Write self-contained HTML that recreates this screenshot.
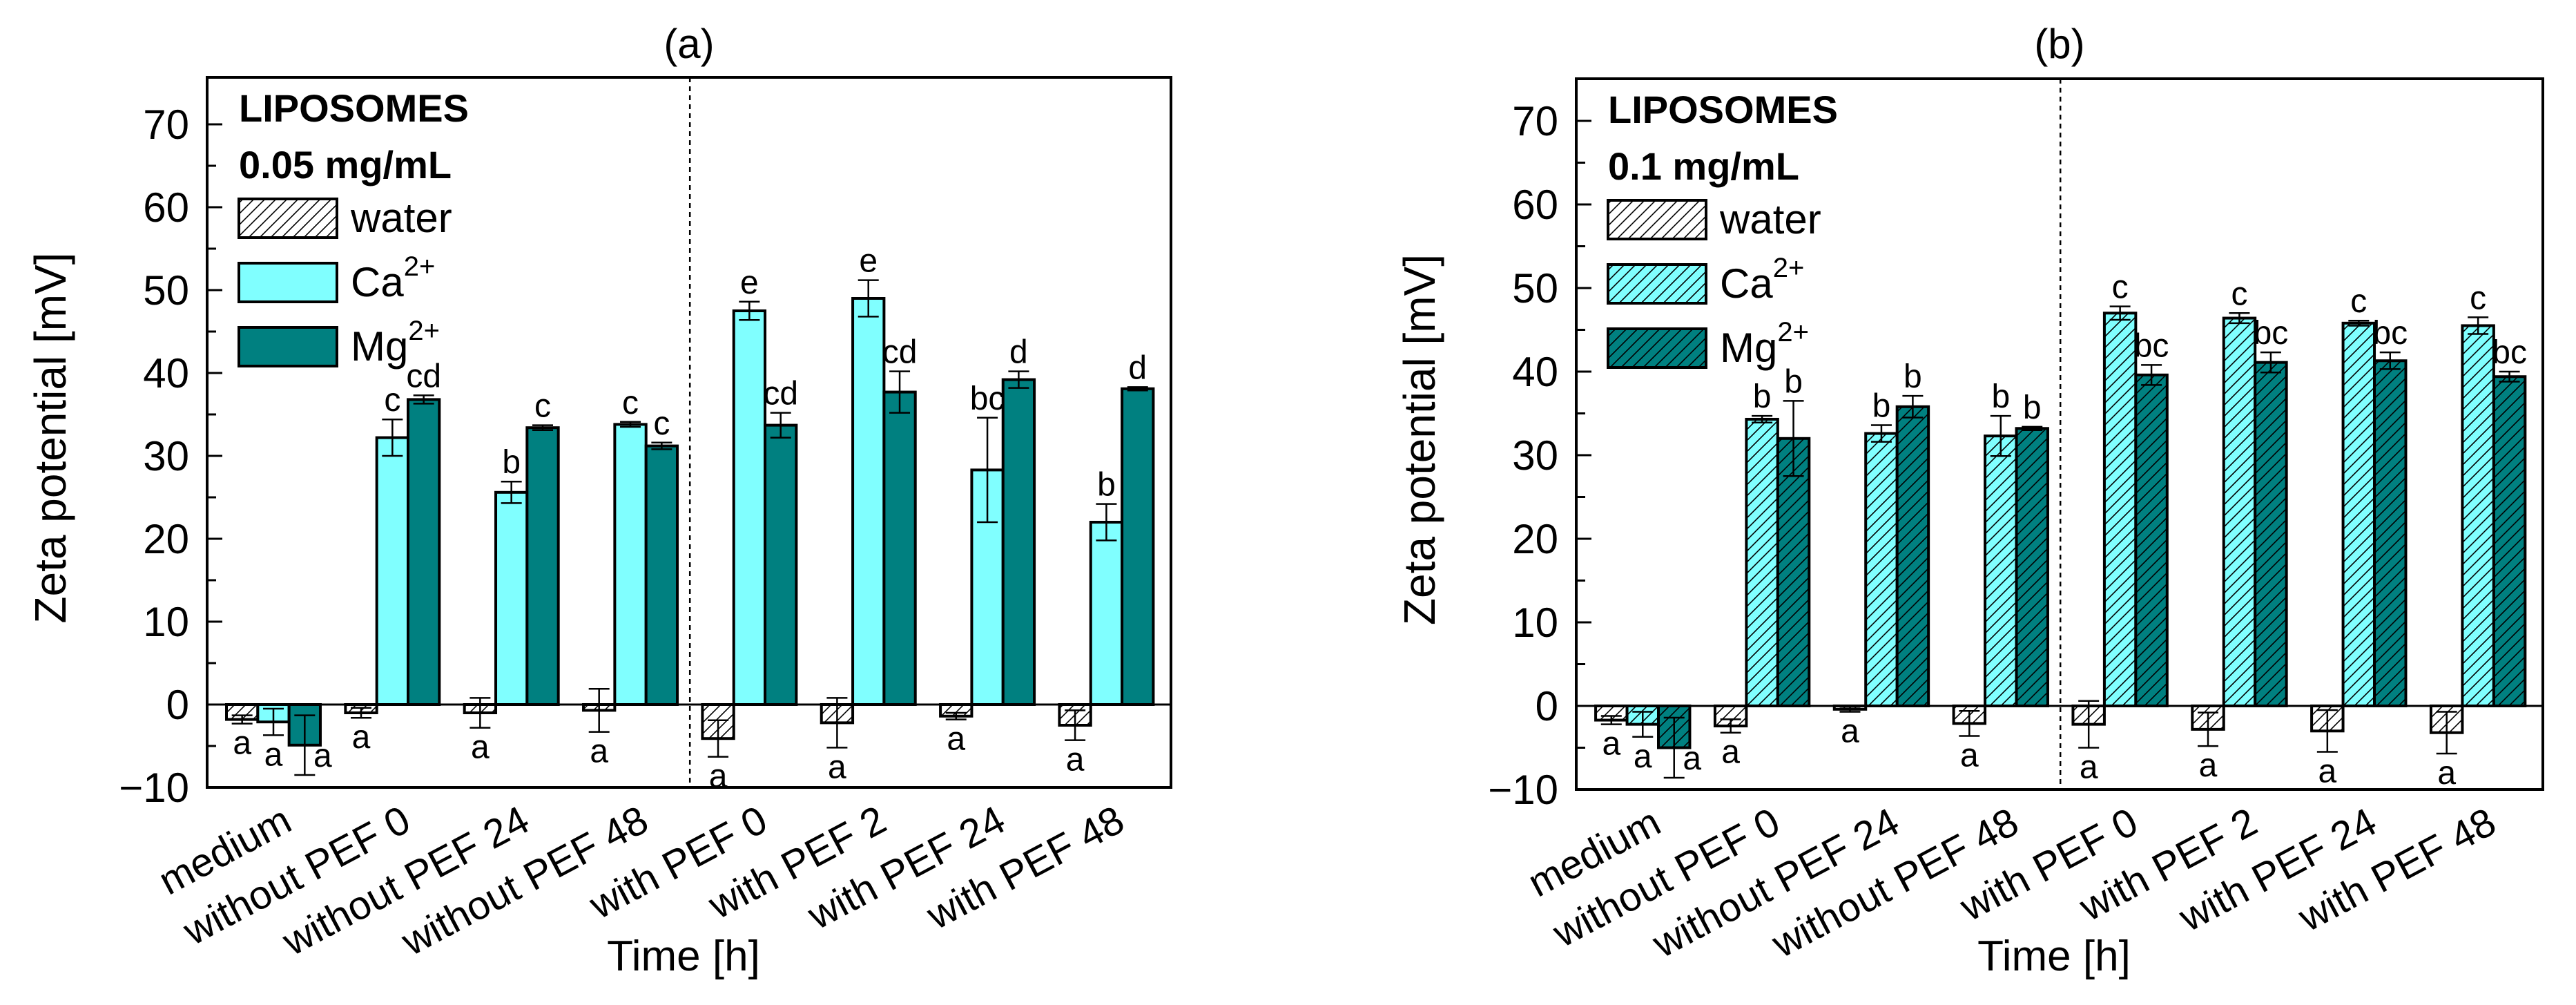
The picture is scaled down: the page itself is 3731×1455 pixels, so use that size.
<!DOCTYPE html>
<html><head><meta charset="utf-8">
<style>
html,body{margin:0;padding:0;background:#fff;}
svg{display:block;font-family:"Liberation Sans",Arial,sans-serif;}
</style></head>
<body>
<svg id="chart" width="3731" height="1455" viewBox="0 0 3731 1455" xmlns="http://www.w3.org/2000/svg">
<defs>
<pattern id="hatchW" patternUnits="userSpaceOnUse" width="16" height="16">
<rect width="16" height="16" fill="#ffffff"/>
<path d="M-2,2 L2,-2 M0,16 L16,0 M14,18 L18,14" stroke="#000" stroke-width="1.6"/>
</pattern>
<pattern id="hatchC" patternUnits="userSpaceOnUse" width="16" height="16">
<rect width="16" height="16" fill="#80ffff"/>
<path d="M-2,2 L2,-2 M0,16 L16,0 M14,18 L18,14" stroke="#000" stroke-width="1.6"/>
</pattern>
<pattern id="hatchM" patternUnits="userSpaceOnUse" width="16" height="16">
<rect width="16" height="16" fill="#008080"/>
<path d="M-2,2 L2,-2 M0,16 L16,0 M14,18 L18,14" stroke="#000" stroke-width="1.6"/>
</pattern>
</defs>
</svg>
<script>
const categories = ["medium","without PEF 0","without PEF 24","without PEF 48","with PEF 0","with PEF 2","with PEF 24","with PEF 48"];
const yTicks = [-10,0,10,20,30,40,50,60,70];
// Panel (a) 0.05 mg/mL
const aWater = [-1.8,-1.0,-1.0,-0.7,-4.1,-2.2,-1.4,-2.5];
const aWaterErr = [0.5,0.6,1.8,2.6,2.2,3.0,0.4,1.8];
const aCa = [-2.1,32.2,25.6,33.8,47.5,49.0,28.3,22.0];
const aCaErr = [1.6,2.2,1.3,0.3,1.1,2.2,6.3,2.2];
const aMg = [-4.9,36.8,33.4,31.2,33.7,37.7,39.2,38.1];
const aMgErr = [3.6,0.5,0.3,0.4,1.5,2.5,1.0,0.2];
const aWaterLbl = ["a","a","a","a","a","a","a","a"];
const aCaLbl = ["a","c","b","c","e","e","bc","b"];
const aMgLbl = ["a","cd","c","c","cd","cd","d","d"];
// Panel (b) 0.1 mg/mL
const bWater = [-1.7,-2.4,-0.4,-2.1,-2.2,-2.8,-3.0,-3.2];
const bWaterErr = [0.5,0.8,0.3,1.5,2.8,2.0,2.5,2.5];
const bCa = [-2.2,34.3,32.6,32.3,47.0,46.4,45.8,45.5];
const bCaErr = [1.5,0.4,1.0,2.4,0.8,0.6,0.3,1.0];
const bMg = [-5.0,32.0,35.8,33.2,39.6,41.1,41.3,39.4];
const bMgErr = [3.6,4.5,1.3,0.2,1.2,1.2,1.0,0.6];
const bWaterLbl = ["a","a","a","a","a","a","a","a"];
const bCaLbl = ["a","b","b","b","c","c","c","c"];
const bMgLbl = ["a","b","b","b","bc","bc","bc","bc"];

const NS = "http://www.w3.org/2000/svg";
const svg = document.getElementById("chart");
function mk(tag, attrs, parent, text){
  const e = document.createElementNS(NS, tag);
  for (const k in attrs) e.setAttribute(k, attrs[k]);
  if (text !== undefined) e.textContent = text;
  (parent || svg).appendChild(e);
  return e;
}

function panel(cfg){
  const g = mk("g", {});
  
  
  const L = cfg.left, R = cfg.right, T = cfg.top, B = cfg.bottom, Z = cfg.zero;
  const ppu = (B - Z) / 10;
  const y = v => Z - v * ppu;
  const xmin = 0.443, step = (R - L) / 8.1;
  const x = v => L + (v - xmin) * step;
  const bw = 0.263 * step;

  const sep = mk("line", {x1:x(4.5), x2:x(4.5), y1:T, y2:B, stroke:"#000", "stroke-width":2.5, "stroke-dasharray":"7,6"}, g);
  
  

  const series = [
    {vals:cfg.water, err:cfg.waterErr, lbl:cfg.waterLbl, off:-1, fill:"url(#hatchW)", key:"water"},
    {vals:cfg.ca, err:cfg.caErr, lbl:cfg.caLbl, off:0, fill:cfg.hatched?"url(#hatchC)":"#80ffff", key:"ca"},
    {vals:cfg.mg, err:cfg.mgErr, lbl:cfg.mgLbl, off:1, fill:cfg.hatched?"url(#hatchM)":"#008080", key:"mg"}
  ];
  series.forEach(s => {
    s.vals.forEach((v, i) => {
      const cx = x(i + 1 + s.off * 0.263);
      const y0 = y(0), y1 = y(v);
      const r = mk("rect", {x:cx - bw/2, y:Math.min(y0,y1), width:bw, height:Math.abs(y1-y0), fill:s.fill, stroke:"#000", "stroke-width":4}, g);
      
      
      const e = s.err[i];
      const eg = mk("g", {stroke:"#000", "stroke-width":2.5}, g);
      
      
      mk("line", {x1:cx, x2:cx, y1:y(v+e), y2:y(v-e)}, eg);
      mk("line", {x1:cx-15, x2:cx+15, y1:y(v+e), y2:y(v+e)}, eg);
      mk("line", {x1:cx-15, x2:cx+15, y1:y(v-e), y2:y(v-e)}, eg);
      let ly, lx = cx;
      if (v >= 0) ly = y(v + e) - 12;
      else if (s.key === "mg" && v < -4) { ly = y(v - e) - 12; lx = cx + 26; }
      else ly = y(v - e) + 44;
      const t = mk("text", {x:lx, y:ly, "font-size":48, "text-anchor":"middle"}, g, s.lbl[i]);
      
      
    });
  });

  const zl = mk("line", {x1:L, x2:R, y1:y(0), y2:y(0), stroke:"#000", "stroke-width":3}, g);
  
  

  const fr = mk("rect", {x:L, y:T, width:R-L, height:B-T, fill:"none", stroke:"#000", "stroke-width":4}, g);
  
  

  for (let v = -10; v <= 70; v += 5) {
    const major = v % 10 === 0;
    mk("line", {x1:L, x2:L + (major ? 22 : 13), y1:y(v), y2:y(v), stroke:"#000", "stroke-width":3}, g);
  }
  yTicks.forEach(v => {
    const t = mk("text", {x:L - 26, y:y(v) + 21, "font-size":60, "text-anchor":"end"}, g, v < 0 ? "\u2212" + Math.abs(v) : String(v));
    
    
  });

  const yt = mk("text", {x:0, y:0, "font-size":64, "text-anchor":"middle", transform:`translate(${L-205},${(T+B)/2 + 8}) rotate(-90)`}, g, "Zeta potential [mV]");
  
  

  categories.forEach((c, i) => {
    const cx = x(i + 1) + 30;
    const t = mk("text", {x:0, y:0, "font-size":58, "text-anchor":"end", transform:`translate(${cx},${B + 60}) rotate(-28)`}, g, c);
    
    
  });

  const xt = mk("text", {x:(L+R)/2 - 8, y:1405, "font-size":62, "text-anchor":"middle"}, g, "Time [h]");
  
  

  const pt = mk("text", {x:(L+R)/2, y:84, "font-size":60, "text-anchor":"middle"}, g, cfg.title);
  
  

  const lg = mk("g", {}, g);
  
  
  const lx = L + 46;
  mk("text", {x:lx, y:T + 64, "font-size":56, "font-weight":"bold"}, lg, "LIPOSOMES");
  mk("text", {x:lx, y:T + 146, "font-size":56, "font-weight":"bold"}, lg, cfg.conc);
  const items = [
    {fill:"url(#hatchW)", label:"water", sup:""},
    {fill:cfg.hatched?"url(#hatchC)":"#80ffff", label:"Ca", sup:"2+"},
    {fill:cfg.hatched?"url(#hatchM)":"#008080", label:"Mg", sup:"2+"}
  ];
  items.forEach((it, k) => {
    const by = T + 176 + k * 93;
    const ent = mk("g", {}, lg);
    
    
    mk("rect", {x:lx, y:by, width:142, height:56, fill:it.fill, stroke:"#000", "stroke-width":4}, ent);
    const t = mk("text", {x:lx + 162, y:by + 48, "font-size":60}, ent, it.label);
    if (it.sup) mk("tspan", {dy:-30, "font-size":40}, t, it.sup);
  });
}

panel({name:"panel-a", title:"(a)", conc:"0.05 mg/mL", hatched:false,
  left:300, right:1696, top:112, bottom:1140, zero:1020,
  water:aWater, waterErr:aWaterErr, waterLbl:aWaterLbl,
  ca:aCa, caErr:aCaErr, caLbl:aCaLbl, mg:aMg, mgErr:aMgErr, mgLbl:aMgLbl});
panel({name:"panel-b", title:"(b)", conc:"0.1 mg/mL", hatched:true,
  left:2283, right:3683, top:114, bottom:1143, zero:1022,
  water:bWater, waterErr:bWaterErr, waterLbl:bWaterLbl,
  ca:bCa, caErr:bCaErr, caLbl:bCaLbl, mg:bMg, mgErr:bMgErr, mgLbl:bMgLbl});
</script>
</body></html>
